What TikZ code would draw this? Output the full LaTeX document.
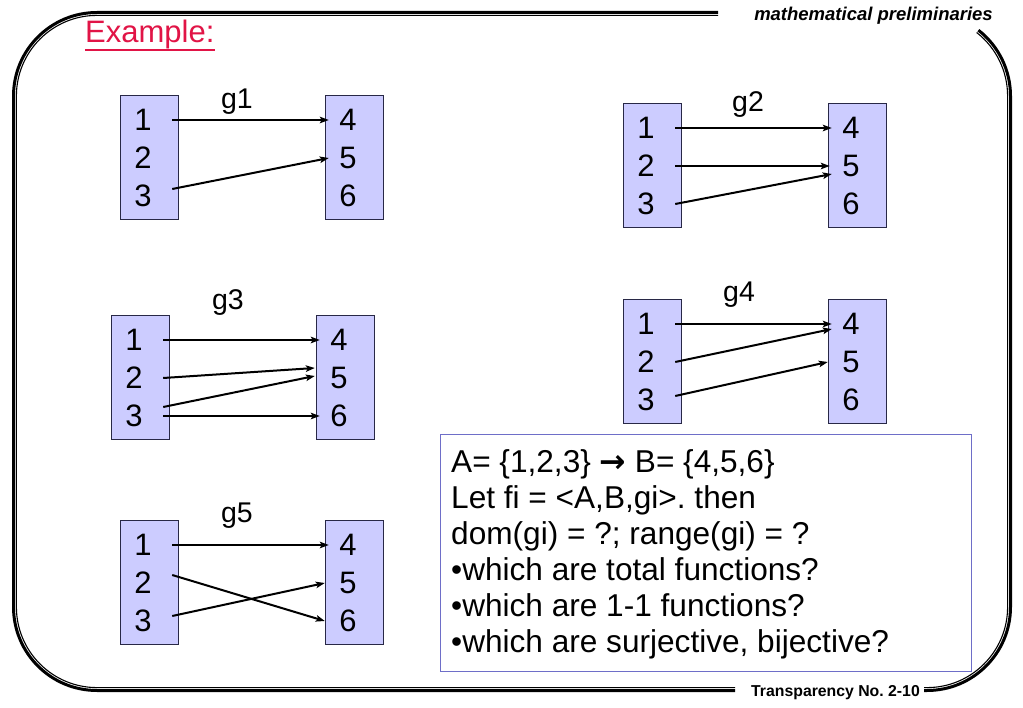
\documentclass[tikz,border=0pt]{standalone}
\usepackage{fontspec}
\setmainfont[Ligatures=CommonOff]{Liberation Sans}
\newfontfamily\arrowfont{DejaVu Sans}
\usetikzlibrary{arrows.meta,calc}
\frenchspacing
\definecolor{boxfill}{RGB}{204,204,255}
\definecolor{boxedge}{RGB}{40,40,70}
\definecolor{qedge}{RGB}{110,110,200}
\definecolor{titlered}{RGB}{225,20,70}
\newcommand\fsz[1]{\fontsize{#1}{#1}\selectfont}
\newcommand\myframe[2]{%
  \draw[#2] (735,{692-#1}) -- (97,{692-#1})
     arc[start angle=90,end angle=180,radius={85-#1}] -- ({12+#1},96)
     arc[start angle=180,end angle=270,radius={85-#1}] -- (718,{11+#1});
  \draw[#2] ({927+(85-#1)*cos(308)},{96+(85-#1)*sin(308)})
     arc[start angle=308,end angle=360,radius={85-#1}] -- ({1012-#1},607)
     arc[start angle=0,end angle=90,radius={85-#1}] -- (924,{692-#1});
}
\newcommand\fdiag[7]{%
  \node[setbox] (#1A) at (#2,#4) {};
  \node[setbox] (#1B) at (#3,#4) {};
  \node[lnum] (#1a1) at ({#2+23},{#4+25}) {1};
  \node[lnum] (#1a2) at ({#2+23},{#4+63}) {2};
  \node[lnum] (#1a3) at ({#2+23},{#4+101}) {3};
  \node[rnum] (#1b4) at ({#3+23},{#4+25}) {4};
  \node[rnum] (#1b5) at ({#3+23},{#4+63}) {5};
  \node[rnum] (#1b6) at ({#3+23},{#4+101}) {6};
  \node[glabel] (#1l) at (#5,#6) {#7};
}
\tikzset{
  setbox/.style={draw=boxedge, line width=1pt, fill=boxfill, minimum width=58pt,
    minimum height=124pt, anchor=north west, inner sep=0pt},
  lnum/.style={font=\fsz{31}, minimum width=58pt, inner sep=0pt},
  rnum/.style={font=\fsz{31}, minimum width=38pt, inner sep=0pt},
  glabel/.style={font=\fsz{28.5}, anchor=base, inner sep=0pt},
  map/.style={line width=2pt, -{Stealth[length=9pt,width=6.5pt,inset=2pt]}},
  qline/.style={font=\fsz{31.6}, anchor=base west, inner sep=0pt},
}
\begin{document}
\begin{tikzpicture}[x=1pt,y=-1pt]
\useasboundingbox (0,0) rectangle (1023,708);
\fill[white] (0,0) rectangle (1023,708);
% frame
\myframe{1.5}{line width=3pt, black}
\myframe{4.4}{line width=1.1pt, black}
% header and footer
\node[font=\fsz{18.5}\bfseries\itshape, anchor=base east, inner sep=0pt] (hdr) at (993,21) {mathematical preliminaries};
\node[font=\fsz{15.8}\bfseries, anchor=base east, inner sep=0pt] (ftr) at (920,696) {Transparency No. 2-10};
\node[font=\fsz{31}, text=titlered, anchor=base west, inner sep=0pt] (title) at (85,43) {Example:};
\draw[titlered, line width=1.3pt] ([yshift=-7pt]title.base west) -- ([yshift=-7pt]title.base east);
% diagrams
\fdiag{g1}{120}{325}{95}{237}{109}{g1}
\fdiag{g2}{623}{828}{103}{748}{112}{g2}
\fdiag{g3}{111}{316}{315}{228}{310}{g3}
\fdiag{g4}{623}{828}{299}{739}{302}{g4}
\fdiag{g5}{120}{325}{520}{237}{522}{g5}
% g1
\draw[map] (g1a1.east) -- (g1b4.west);
\draw[map] ([yshift=7pt]g1a3.east) -- (g1b5.west);
% g2
\draw[map] (g2a1.east) -- (g2b4.west);
\draw[map] (g2a2.east) -- ([xshift=-2pt]g2b5.west);
\draw[map] (g2a3.east) -- ([yshift=-8pt]g2b5.west);
% g3
\draw[map] (g3a1.east) -- (g3b4.west);
\draw[map] (g3a2.east) -- ([yshift=10pt,xshift=-5pt]g3b5.west);
\draw[map] ([yshift=9pt]g3a3.east) -- ([yshift=2pt,xshift=-5pt]g3b5.west);
\draw[map] (g3a3.east) -- (g3b6.west);
% g4
\draw[map] (g4a1.east) -- (g4b4.west);
\draw[map] (g4a2.east) -- ([yshift=-5pt]g4b4.west);
\draw[map] ([yshift=4pt]g4a3.east) -- ([xshift=-4pt]g4b5.west);
% g5
\draw[map] (g5a1.east) -- (g5b4.west);
\draw[map] ([yshift=8pt]g5a2.east) -- ([xshift=-4pt]g5b6.west);
\draw[map] ([yshift=5pt]g5a3.east) -- ([xshift=-4pt]g5b5.west);
% question box
\node[draw=qedge, line width=1pt, fill=white, minimum width=531pt, minimum height=237pt,
      anchor=north west, inner sep=0pt] (qbox) at (440,434) {};
\node[qline] (q1) at (451,472) {A= \{1,2,3\} {\arrowfont\bfseries →} B= \{4,5,6\}};
\node[qline] (q2) at (451,508) {Let fi = <A,B,gi>. then};
\node[qline] (q3) at (451,544) {dom(gi) = ?; range(gi) = ?};
\node[qline] (q4) at (451,580) {•which are total functions?};
\node[qline] (q5) at (451,616) {•which are 1-1 functions?};
\node[qline] (q6) at (451,652) {•which are surjective, bijective?};
\end{tikzpicture}
\end{document}
